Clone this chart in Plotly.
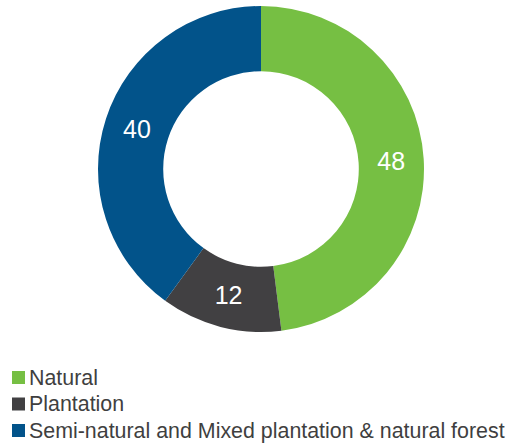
import plotly.graph_objects as go

labels = ["Natural", "Plantation", "Semi-natural and Mixed plantation & natural forest"]
values = [48, 12, 40]
colors = ["#76BF43", "#414042", "#02538A"]

W, H = 512, 445
FONT = "Liberation Sans, Arial, Helvetica, sans-serif"

fig = go.Figure(go.Pie(
    labels=labels,
    values=values,
    marker=dict(colors=colors, line=dict(width=0)),
    hole=0.6,
    sort=False,
    direction="clockwise",
    rotation=0,
    textinfo="value",
    textposition="inside",
    insidetextorientation="horizontal",
    textfont=dict(family=FONT, size=25, color="white"),
    domain=dict(x=[98 / W, 424 / W], y=[1 - 332 / H, 1 - 6 / H]),
    hoverinfo="label+value",
    showlegend=False,
))

# Legend drawn as layout text + swatches (built from the data arrays)
shapes = []
annotations = []
row_y = [377.5, 404, 430.5]
for lab, col, yc in zip(labels, colors, row_y):
    shapes.append(dict(
        type="rect", xref="paper", yref="paper",
        x0=12 / W, x1=25 / W, y0=1 - (yc + 6.5) / H, y1=1 - (yc - 6.5) / H,
        fillcolor=col, line=dict(width=0),
    ))
    annotations.append(dict(
        text=lab, xref="paper", yref="paper",
        x=27 / W, y=1 - yc / H, xanchor="left", yanchor="middle",
        showarrow=False,
        font=dict(family=FONT, size=21.4, color="#3f3f3f"),
    ))

fig.update_layout(
    width=W, height=H,
    margin=dict(l=0, r=0, t=0, b=0),
    paper_bgcolor="white",
    plot_bgcolor="white",
    showlegend=False,
    shapes=shapes,
    annotations=annotations,
)

fig.write_html("out.html", config={"displayModeBar": False},
               post_script="document.body.style.margin='0px';")
